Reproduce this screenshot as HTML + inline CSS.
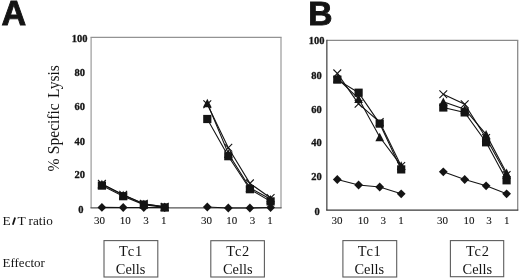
<!DOCTYPE html>
<html><head><meta charset="utf-8"><title>Figure</title>
<style>
html,body{margin:0;padding:0;background:#fff;}
body{width:520px;height:279px;overflow:hidden;font-family:"Liberation Serif",serif;}
svg{display:block;will-change:transform;transform:translateZ(0);}
text{fill:#141414;}
</style></head><body>
<svg width="520" height="279" viewBox="0 0 520 279">
<path d="M91.1 207.9V37.4M281.0 37.4V207.9" fill="none" stroke="#969696" stroke-width="1.15"/>
<path d="M90.5 37.4H281.6" fill="none" stroke="#939393" stroke-width="1.15"/>
<path d="M90.5 207.8H281.6" fill="none" stroke="#555" stroke-width="1.3"/>
<path d="M327 40.4H518.3" fill="none" stroke="#8a8a8a" stroke-width="1.2"/>
<path d="M517.7 40.4V210.2" fill="none" stroke="#8a8a8a" stroke-width="1.3"/>
<path d="M326.85 39.8V210.2" fill="none" stroke="#444" stroke-width="1.25"/>
<path d="M326.2 210.2H518.3" fill="none" stroke="#383838" stroke-width="1.25"/>
<polyline points="101.9,207.4 123.2,207.5 143.8,207.5 164.7,207.5" fill="none" stroke="#141414" stroke-width="1.1"/>
<polyline points="101.9,185.6 123.2,196.2 143.8,204.6 164.7,207.4" fill="none" stroke="#141414" stroke-width="1.1"/>
<polyline points="101.9,184.1 123.2,195.1 143.8,204.0 164.7,206.9" fill="none" stroke="#141414" stroke-width="1.1"/>
<polyline points="101.9,183.9 123.2,194.8 143.8,203.8 164.7,206.8" fill="none" stroke="#141414" stroke-width="1.1"/>
<g fill="#141414">
<path d="M97.5 207.4L101.9 203.0L106.3 207.4L101.9 211.8Z"/>
<rect x="97.8" y="181.5" width="8.2" height="8.2"/>
<path d="M97.6 188.4L101.9 179.8L106.2 188.4Z"/>
<path d="M118.8 207.5L123.2 203.1L127.6 207.5L123.2 211.9Z"/>
<rect x="119.1" y="192.1" width="8.2" height="8.2"/>
<path d="M118.9 199.4L123.2 190.8L127.5 199.4Z"/>
<path d="M139.4 207.5L143.8 203.1L148.2 207.5L143.8 211.9Z"/>
<rect x="139.7" y="200.5" width="8.2" height="8.2"/>
<path d="M139.5 208.3L143.8 199.7L148.1 208.3Z"/>
<path d="M160.3 207.5L164.7 203.1L169.1 207.5L164.7 211.9Z"/>
<rect x="160.6" y="203.3" width="8.2" height="8.2"/>
<path d="M160.4 211.2L164.7 202.6L169.0 211.2Z"/>
</g>
<path d="M98.0 180.0L105.8 187.8M98.0 187.8L105.8 180.0" fill="none" stroke="#141414" stroke-width="1.1"/>
<path d="M119.3 190.9L127.1 198.7M119.3 198.7L127.1 190.9" fill="none" stroke="#141414" stroke-width="1.1"/>
<path d="M139.9 199.9L147.7 207.7M139.9 207.7L147.7 199.9" fill="none" stroke="#141414" stroke-width="1.1"/>
<path d="M160.8 202.9L168.6 210.7M160.8 210.7L168.6 202.9" fill="none" stroke="#141414" stroke-width="1.1"/>
<polyline points="207.3,207.0 228.3,208.0 249.9,208.0 270.6,207.5" fill="none" stroke="#141414" stroke-width="1.1"/>
<polyline points="207.3,119.0 228.3,156.2 249.9,189.2 270.6,201.4" fill="none" stroke="#141414" stroke-width="1.1"/>
<polyline points="207.3,103.0 228.3,153.6 249.9,187.8 270.6,199.3" fill="none" stroke="#141414" stroke-width="1.1"/>
<polyline points="207.3,104.2 228.3,147.8 249.9,183.4 270.6,198.0" fill="none" stroke="#141414" stroke-width="1.1"/>
<g fill="#141414">
<path d="M202.9 207.0L207.3 202.6L211.7 207.0L207.3 211.4Z"/>
<rect x="203.2" y="114.9" width="8.2" height="8.2"/>
<path d="M203.0 107.3L207.3 98.7L211.6 107.3Z"/>
<path d="M223.9 208.0L228.3 203.6L232.7 208.0L228.3 212.4Z"/>
<rect x="224.2" y="152.1" width="8.2" height="8.2"/>
<path d="M224.0 157.9L228.3 149.3L232.6 157.9Z"/>
<path d="M245.5 208.0L249.9 203.6L254.3 208.0L249.9 212.4Z"/>
<rect x="245.8" y="185.1" width="8.2" height="8.2"/>
<path d="M245.6 192.1L249.9 183.5L254.2 192.1Z"/>
<path d="M266.2 207.5L270.6 203.1L275.0 207.5L270.6 211.9Z"/>
<rect x="266.5" y="197.3" width="8.2" height="8.2"/>
<path d="M266.3 203.6L270.6 195.0L274.9 203.6Z"/>
</g>
<path d="M203.4 100.3L211.2 108.1M203.4 108.1L211.2 100.3" fill="none" stroke="#141414" stroke-width="1.1"/>
<path d="M224.4 143.9L232.2 151.7M224.4 151.7L232.2 143.9" fill="none" stroke="#141414" stroke-width="1.1"/>
<path d="M246.0 179.5L253.8 187.3M246.0 187.3L253.8 179.5" fill="none" stroke="#141414" stroke-width="1.1"/>
<path d="M266.7 194.1L274.5 201.9M266.7 201.9L274.5 194.1" fill="none" stroke="#141414" stroke-width="1.1"/>
<polyline points="337.3,179.5 358.6,185.0 379.7,187.0 401.2,193.8" fill="none" stroke="#141414" stroke-width="1.1"/>
<polyline points="337.3,79.6 358.6,92.7 379.7,123.6 401.2,169.4" fill="none" stroke="#141414" stroke-width="1.1"/>
<polyline points="337.3,78.4 358.6,98.6 379.7,137.0 401.2,165.6" fill="none" stroke="#141414" stroke-width="1.1"/>
<polyline points="337.3,73.4 358.6,103.8 379.7,122.0 401.2,166.0" fill="none" stroke="#141414" stroke-width="1.1"/>
<g fill="#141414">
<path d="M332.9 179.5L337.3 175.1L341.7 179.5L337.3 183.9Z"/>
<rect x="333.2" y="75.5" width="8.2" height="8.2"/>
<path d="M333.0 82.7L337.3 74.1L341.6 82.7Z"/>
<path d="M354.2 185.0L358.6 180.6L363.0 185.0L358.6 189.4Z"/>
<rect x="354.5" y="88.6" width="8.2" height="8.2"/>
<path d="M354.3 102.9L358.6 94.3L362.9 102.9Z"/>
<path d="M375.3 187.0L379.7 182.6L384.1 187.0L379.7 191.4Z"/>
<rect x="375.6" y="119.5" width="8.2" height="8.2"/>
<path d="M375.4 141.3L379.7 132.7L384.0 141.3Z"/>
<path d="M396.8 193.8L401.2 189.4L405.6 193.8L401.2 198.2Z"/>
<rect x="397.1" y="165.3" width="8.2" height="8.2"/>
<path d="M396.9 169.9L401.2 161.3L405.5 169.9Z"/>
</g>
<path d="M333.4 69.5L341.2 77.3M333.4 77.3L341.2 69.5" fill="none" stroke="#141414" stroke-width="1.1"/>
<path d="M354.7 99.9L362.5 107.7M354.7 107.7L362.5 99.9" fill="none" stroke="#141414" stroke-width="1.1"/>
<path d="M375.8 118.1L383.6 125.9M375.8 125.9L383.6 118.1" fill="none" stroke="#141414" stroke-width="1.1"/>
<path d="M397.3 162.1L405.1 169.9M397.3 169.9L405.1 162.1" fill="none" stroke="#141414" stroke-width="1.1"/>
<polyline points="443.3,171.8 464.7,179.5 486.1,185.8 506.6,193.8" fill="none" stroke="#141414" stroke-width="1.1"/>
<polyline points="443.3,107.5 464.7,112.4 486.1,142.3 506.6,180.3" fill="none" stroke="#141414" stroke-width="1.1"/>
<polyline points="443.3,101.7 464.7,109.2 486.1,134.4 506.6,172.9" fill="none" stroke="#141414" stroke-width="1.1"/>
<polyline points="443.3,94.2 464.7,104.2 486.1,138.0 506.6,175.0" fill="none" stroke="#141414" stroke-width="1.1"/>
<g fill="#141414">
<path d="M438.9 171.8L443.3 167.4L447.7 171.8L443.3 176.2Z"/>
<rect x="439.2" y="103.4" width="8.2" height="8.2"/>
<path d="M439.0 106.0L443.3 97.4L447.6 106.0Z"/>
<path d="M460.3 179.5L464.7 175.1L469.1 179.5L464.7 183.9Z"/>
<rect x="460.6" y="108.3" width="8.2" height="8.2"/>
<path d="M460.4 113.5L464.7 104.9L469.0 113.5Z"/>
<path d="M481.7 185.8L486.1 181.4L490.5 185.8L486.1 190.2Z"/>
<rect x="482.0" y="138.2" width="8.2" height="8.2"/>
<path d="M481.8 138.7L486.1 130.1L490.4 138.7Z"/>
<path d="M502.2 193.8L506.6 189.4L511.0 193.8L506.6 198.2Z"/>
<rect x="502.5" y="176.2" width="8.2" height="8.2"/>
<path d="M502.3 177.2L506.6 168.6L510.9 177.2Z"/>
</g>
<path d="M439.4 90.3L447.2 98.1M439.4 98.1L447.2 90.3" fill="none" stroke="#141414" stroke-width="1.1"/>
<path d="M460.8 100.3L468.6 108.1M460.8 108.1L468.6 100.3" fill="none" stroke="#141414" stroke-width="1.1"/>
<path d="M482.2 134.1L490.0 141.9M482.2 141.9L490.0 134.1" fill="none" stroke="#141414" stroke-width="1.1"/>
<path d="M502.7 171.1L510.5 178.9M502.7 178.9L510.5 171.1" fill="none" stroke="#141414" stroke-width="1.1"/>
<text x="79.7" y="42.0" text-anchor="middle" font-family="Liberation Serif" font-weight="bold" font-size="10.5" stroke="#141414" stroke-width="0.3">100</text>
<text x="79.7" y="76.2" text-anchor="middle" font-family="Liberation Serif" font-weight="bold" font-size="10.5" stroke="#141414" stroke-width="0.3">80</text>
<text x="79.7" y="110.1" text-anchor="middle" font-family="Liberation Serif" font-weight="bold" font-size="10.5" stroke="#141414" stroke-width="0.3">60</text>
<text x="79.7" y="144.7" text-anchor="middle" font-family="Liberation Serif" font-weight="bold" font-size="10.5" stroke="#141414" stroke-width="0.3">40</text>
<text x="79.7" y="178.4" text-anchor="middle" font-family="Liberation Serif" font-weight="bold" font-size="10.5" stroke="#141414" stroke-width="0.3">20</text>
<text x="80.75" y="212.5" text-anchor="middle" font-family="Liberation Serif" font-weight="bold" font-size="10.5" stroke="#141414" stroke-width="0.3">0</text>
<text x="316.6" y="44.0" text-anchor="middle" font-family="Liberation Serif" font-weight="bold" font-size="10.5" stroke="#141414" stroke-width="0.3">100</text>
<text x="316.6" y="79.2" text-anchor="middle" font-family="Liberation Serif" font-weight="bold" font-size="10.5" stroke="#141414" stroke-width="0.3">80</text>
<text x="316.6" y="112.7" text-anchor="middle" font-family="Liberation Serif" font-weight="bold" font-size="10.5" stroke="#141414" stroke-width="0.3">60</text>
<text x="316.6" y="146.4" text-anchor="middle" font-family="Liberation Serif" font-weight="bold" font-size="10.5" stroke="#141414" stroke-width="0.3">40</text>
<text x="316.6" y="179.9" text-anchor="middle" font-family="Liberation Serif" font-weight="bold" font-size="10.5" stroke="#141414" stroke-width="0.3">20</text>
<text x="317" y="214.9" text-anchor="middle" font-family="Liberation Serif" font-weight="bold" font-size="10.5" stroke="#141414" stroke-width="0.3">0</text>
<text x="99.5" y="223.8" text-anchor="middle" font-family="Liberation Serif" font-size="11" stroke="#141414" stroke-width="0.1">30</text>
<text x="125.3" y="223.8" text-anchor="middle" font-family="Liberation Serif" font-size="11" stroke="#141414" stroke-width="0.1">10</text>
<text x="146.1" y="223.8" text-anchor="middle" font-family="Liberation Serif" font-size="11" stroke="#141414" stroke-width="0.1">3</text>
<text x="163.8" y="223.8" text-anchor="middle" font-family="Liberation Serif" font-size="11" stroke="#141414" stroke-width="0.1">1</text>
<text x="206.4" y="224" text-anchor="middle" font-family="Liberation Serif" font-size="11" stroke="#141414" stroke-width="0.1">30</text>
<text x="231.8" y="224" text-anchor="middle" font-family="Liberation Serif" font-size="11" stroke="#141414" stroke-width="0.1">10</text>
<text x="252.5" y="224" text-anchor="middle" font-family="Liberation Serif" font-size="11" stroke="#141414" stroke-width="0.1">3</text>
<text x="270.1" y="224" text-anchor="middle" font-family="Liberation Serif" font-size="11" stroke="#141414" stroke-width="0.1">1</text>
<text x="337" y="224.0" text-anchor="middle" font-family="Liberation Serif" font-size="11" stroke="#141414" stroke-width="0.1">30</text>
<text x="363.2" y="224.0" text-anchor="middle" font-family="Liberation Serif" font-size="11" stroke="#141414" stroke-width="0.1">10</text>
<text x="383.2" y="224.0" text-anchor="middle" font-family="Liberation Serif" font-size="11" stroke="#141414" stroke-width="0.1">3</text>
<text x="401" y="224.0" text-anchor="middle" font-family="Liberation Serif" font-size="11" stroke="#141414" stroke-width="0.1">1</text>
<text x="442.6" y="223.8" text-anchor="middle" font-family="Liberation Serif" font-size="11" stroke="#141414" stroke-width="0.1">30</text>
<text x="469" y="223.8" text-anchor="middle" font-family="Liberation Serif" font-size="11" stroke="#141414" stroke-width="0.1">10</text>
<text x="488.9" y="223.8" text-anchor="middle" font-family="Liberation Serif" font-size="11" stroke="#141414" stroke-width="0.1">3</text>
<text x="506.7" y="223.8" text-anchor="middle" font-family="Liberation Serif" font-size="11" stroke="#141414" stroke-width="0.1">1</text>
<rect x="104.0" y="240.6" width="53.80" height="36.40" fill="#fff" stroke="#5c5c5c" stroke-width="1.1"/><text x="131.0" y="255.7" text-anchor="middle" font-family="Liberation Serif" font-size="14.4" letter-spacing="0.8">Tc1</text><text x="130.6" y="274.1" text-anchor="middle" font-family="Liberation Serif" font-size="14.4">Cells</text>
<rect x="210.8" y="240.7" width="53.60" height="36.30" fill="#fff" stroke="#5c5c5c" stroke-width="1.1"/><text x="238.20000000000002" y="255.7" text-anchor="middle" font-family="Liberation Serif" font-size="14.4" letter-spacing="0.8">Tc2</text><text x="237.8" y="274.1" text-anchor="middle" font-family="Liberation Serif" font-size="14.4">Cells</text>
<rect x="342.9" y="240.6" width="53.80" height="36.40" fill="#fff" stroke="#5c5c5c" stroke-width="1.1"/><text x="369.7" y="255.7" text-anchor="middle" font-family="Liberation Serif" font-size="14.4" letter-spacing="0.8">Tc1</text><text x="369.3" y="274.1" text-anchor="middle" font-family="Liberation Serif" font-size="14.4">Cells</text>
<rect x="450.4" y="240.6" width="53.30" height="36.10" fill="#fff" stroke="#5c5c5c" stroke-width="1.1"/><text x="477.79999999999995" y="255.7" text-anchor="middle" font-family="Liberation Serif" font-size="14.4" letter-spacing="0.8">Tc2</text><text x="477.4" y="274.1" text-anchor="middle" font-family="Liberation Serif" font-size="14.4">Cells</text>
<text x="1.4" y="24.9" font-family="Liberation Sans" font-weight="bold" font-size="34.2" stroke="#141414" stroke-width="0.9" stroke-linejoin="miter">A</text>
<text x="308.2" y="24.9" font-family="Liberation Sans" font-weight="bold" font-size="33.6" stroke="#141414" stroke-width="0.9" stroke-linejoin="miter">B</text>
<text transform="translate(59.4,164.9) rotate(-90) scale(0.965,1)" text-anchor="middle" font-family="Liberation Serif" font-size="16.1">%</text>
<text transform="translate(59.4,128.7) rotate(-90) scale(0.965,1)" text-anchor="middle" font-family="Liberation Serif" font-size="16.1">Specific</text>
<text transform="translate(59.4,81.5) rotate(-90) scale(0.965,1)" text-anchor="middle" font-family="Liberation Serif" font-size="16.1">Lysis</text>
<text x="2.5" y="224.7" font-family="Liberation Serif" font-size="13.4">E</text>
<path d="M12.8 224.7L15.1 217.4" stroke="#141414" stroke-width="1.8" fill="none"/>
<text x="17.4" y="224.7" font-family="Liberation Serif" font-size="13.4">T</text>
<text x="28.6" y="224.9" font-family="Liberation Serif" font-size="13.2">ratio</text>
<text x="2.5" y="267" font-family="Liberation Serif" font-size="13">Effector</text>
</svg>
</body></html>
